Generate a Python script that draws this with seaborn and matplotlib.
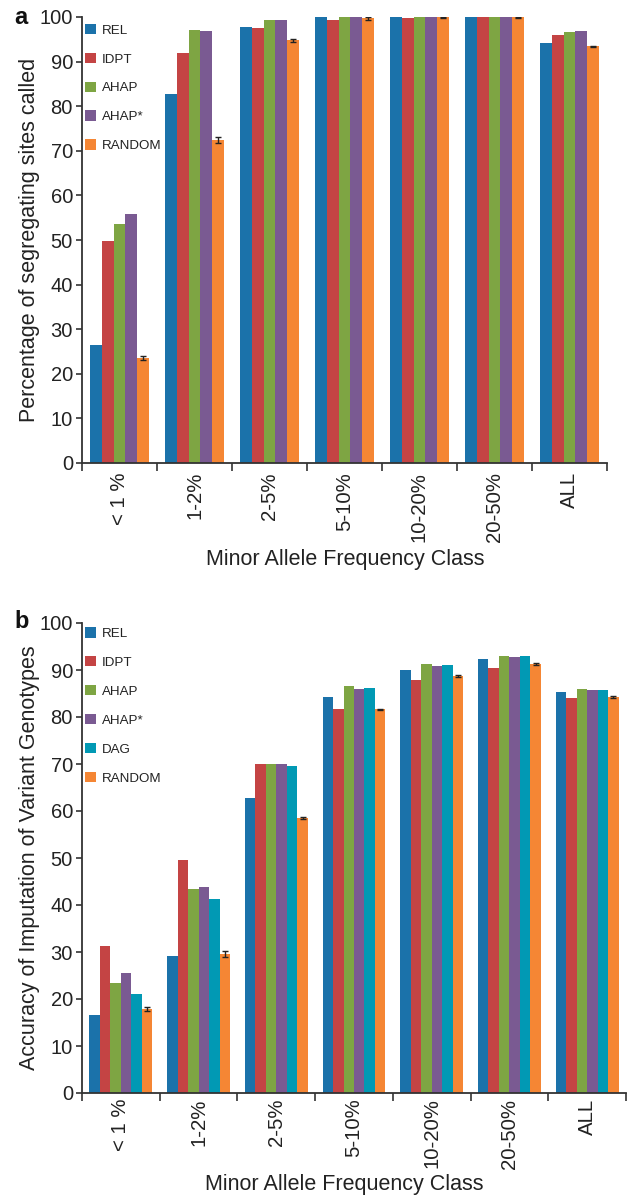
import matplotlib
matplotlib.use("Agg")
import matplotlib.pyplot as plt
import seaborn as sns
import pandas as pd
import numpy as np
from matplotlib.ticker import FixedLocator, NullFormatter

categories = ["< 1 %", "1-2%", "2-5%", "5-10%", "10-20%", "20-50%", "ALL"]

# Panel a: percentage of segregating sites called
a_methods = ["REL", "IDPT", "AHAP", "AHAP*", "RANDOM"]
a_rel = [26.5, 82.7, 97.7, 100.0, 99.9, 99.95, 94.1]
a_idpt = [49.7, 92.0, 97.5, 99.3, 99.7, 99.9, 95.9]
a_ahap = [53.5, 97.0, 99.3, 99.9, 99.9, 99.95, 96.6]
a_ahaps = [55.9, 96.8, 99.3, 99.9, 99.9, 99.95, 96.8]
a_random = [23.5, 72.4, 94.8, 99.7, 99.9, 99.9, 93.4]
a_random_err = [0.5, 0.6, 0.3, 0.3, 0.2, 0.2, 0.15]

# Panel b: accuracy of imputation of variant genotypes
b_methods = ["REL", "IDPT", "AHAP", "AHAP*", "DAG", "RANDOM"]
b_rel = [16.6, 29.2, 62.8, 84.3, 90.1, 92.4, 85.4]
b_idpt = [31.3, 49.6, 69.9, 81.8, 87.9, 90.5, 84.1]
b_ahap = [23.4, 43.5, 70.1, 86.7, 91.3, 93.0, 86.0]
b_ahaps = [25.6, 43.9, 70.1, 86.0, 90.9, 92.8, 85.8]
b_dag = [21.1, 41.3, 69.6, 86.2, 91.1, 93.0, 85.8]
b_random = [17.9, 29.6, 58.5, 81.6, 88.8, 91.3, 84.3]
b_random_err = [0.5, 0.6, 0.3, 0.2, 0.2, 0.2, 0.2]

colors = {"REL": "#1b72aa", "IDPT": "#c44444", "AHAP": "#7ea543",
          "AHAP*": "#7a5a92", "DAG": "#0199b4", "RANDOM": "#f58634"}

sns.set_theme(style="white")
plt.rcParams['font.family'] = ['Liberation Sans', 'DejaVu Sans']

fig = plt.figure(figsize=(6.27, 11.97), dpi=100)
W, H = 627, 1197

def make_df(methods, series):
    rows = []
    for m, vals in zip(methods, series):
        for c, v in zip(categories, vals):
            rows.append({"cat": c, "method": m, "value": v})
    return pd.DataFrame(rows)

def draw(ax, methods, series, err, width, ylabel, letter, letter_y, xpad,
         xlabel_x, xlabel_top, ax_left_px, ax_w_px, ax_bottom_px, ax_h_px, leg_y):
    df = make_df(methods, series)
    sns.barplot(data=df, x="cat", y="value", hue="method", order=categories,
                hue_order=methods, palette=colors, width=width, errorbar=None,
                saturation=1, linewidth=0, ax=ax, legend=True)
    # error bars on RANDOM bars
    cont = ax.containers[len(methods) - 1]
    xs = [p.get_x() + p.get_width() / 2 for p in cont.patches]
    hs = [p.get_height() for p in cont.patches]
    ax.errorbar(xs, hs, yerr=err, fmt="none", ecolor="#222222",
                elinewidth=1.0, capsize=2.2, capthick=1.0, zorder=5)
    ax.set_xlim(-0.5, len(categories) - 0.5)
    ax.set_ylim(0, 100)
    ax.set_yticks(np.arange(0, 101, 10))
    ax.tick_params(axis="y", labelsize=14.5, length=4.5, width=1.2,
                   color="#333333", labelcolor="#222222", pad=2, left=True)
    # x: major ticks at boundaries, labels at centers
    ax.xaxis.set_major_locator(FixedLocator(np.arange(-0.5, len(categories), 1.0)))
    ax.xaxis.set_major_formatter(NullFormatter())
    ax.xaxis.set_minor_locator(FixedLocator(np.arange(len(categories))))
    ax.set_xticklabels(categories, minor=True, rotation=90)
    ax.tick_params(axis="x", which="major", length=6, width=1.2,
                   color="#333333", bottom=True, direction="out")
    ax.tick_params(axis="x", which="minor", length=0, labelsize=14.7,
                   labelcolor="#222222", pad=xpad)
    for s in ["top", "right"]:
        ax.spines[s].set_visible(False)
    for s in ["left", "bottom"]:
        ax.spines[s].set_color("#333333")
        ax.spines[s].set_linewidth(1.3)
    ax.set_xlabel("Minor Allele Frequency Class", fontsize=15.5, color="#222222")
    ax.xaxis.set_label_coords((xlabel_x - ax_left_px) / ax_w_px,
                              -(xlabel_top - ax_bottom_px) / ax_h_px)
    ax.set_ylabel(ylabel, fontsize=15.5, color="#222222")
    ax.yaxis.set_label_coords((40 - ax_left_px) / ax_w_px, 0.5)
    leg = ax.legend(loc="upper left", bbox_to_anchor=(-0.005, leg_y),
                    frameon=False, fontsize=9.6, handlelength=0.85,
                    handleheight=0.85, handletextpad=0.45, labelspacing=1.2,
                    borderaxespad=0.0)
    for t in leg.get_texts():
        t.set_color("#222222")
    fig.text(14 / W, 1 - letter_y / H, letter, fontsize=17, fontweight="bold",
             ha="left", va="baseline", color="#111111")

ax_a = fig.add_axes([82 / W, 1 - 463 / H, (607 - 82) / W, (463 - 17) / H])
draw(ax_a, a_methods, [a_rel, a_idpt, a_ahap, a_ahaps, a_random], a_random_err,
     0.78, "Percentage of segregating sites called", "a", 24, 6.5,
     345, 549, 82, 607 - 82, 463, 463 - 17, 0.997)

ax_b = fig.add_axes([82 / W, 1 - 1093 / H, (626 - 82) / W, (1093 - 623) / H])
draw(ax_b, b_methods, [b_rel, b_idpt, b_ahap, b_ahaps, b_dag, b_random], b_random_err,
     0.81, "Accuracy of Imputation of Variant Genotypes", "b", 628, 4,
     344, 1174, 82, 626 - 82, 1093, 1093 - 623, 1.003)

fig.savefig("out.png", dpi=100)
